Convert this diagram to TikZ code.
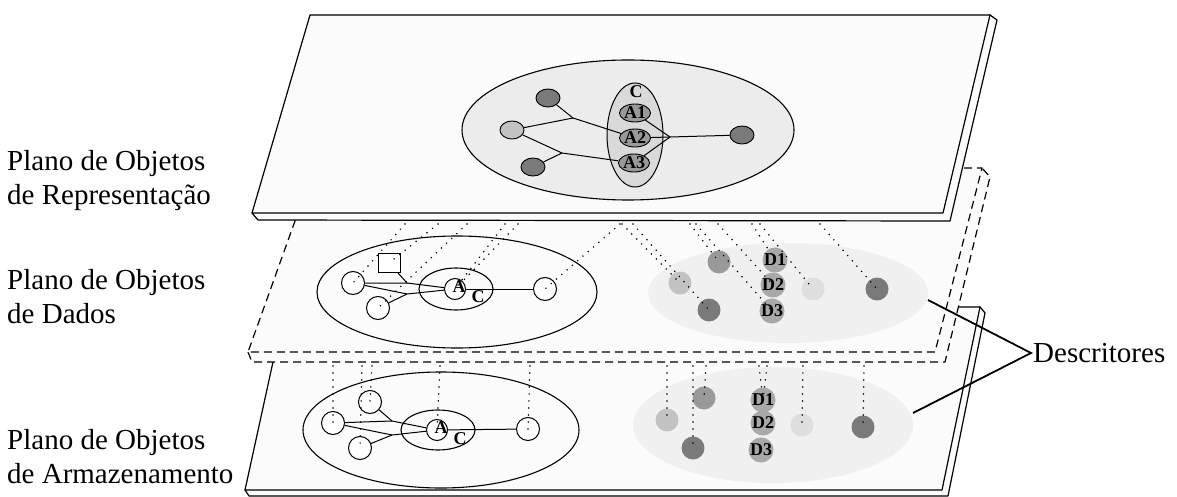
\documentclass[tikz,border=0pt]{standalone}
\usepackage{fontspec}
\setmainfont{Liberation Serif}
\usetikzlibrary{shapes.geometric}
\definecolor{planefill}{gray}{0.985}
\definecolor{ellfill}{gray}{0.925}
\definecolor{cfill}{gray}{0.85}
\definecolor{darkn}{gray}{0.48}
\definecolor{medn}{gray}{0.6}
\definecolor{dn}{gray}{0.66}
\definecolor{lightn}{gray}{0.76}
\definecolor{vlightn}{gray}{0.87}
\definecolor{descfill}{gray}{0.94}
\begin{document}
\begin{tikzpicture}[x=1pt,y=-1pt,
  plane/.style={draw=black, line width=1.2pt, fill=planefill, line join=round},
  dplane/.style={plane, dash pattern=on 8pt off 5pt},
  bigell/.style={ellipse, draw, line width=1.1pt, inner sep=0},
  descell/.style={ellipse, fill=descfill, inner sep=0},
  topn/.style={ellipse, draw, line width=0.9pt, minimum width=24pt, minimum height=18pt, inner sep=0},
  wn/.style={circle, draw, line width=1pt, fill=white, minimum size=23pt, inner sep=0},
  gn/.style={circle, minimum size=23pt, inner sep=0},
  lbl/.style={font=\bfseries\fontsize{18}{18}\selectfont, inner sep=0},
  dots/.style={line width=1.7pt, dash pattern=on 0pt off 7pt, line cap=round},
  edge/.style={line width=1pt},
  side/.style={font=\fontsize{29}{34}\selectfont, anchor=west, align=left, inner sep=0},
  desc/.style={line width=1.8pt}]
\useasboundingbox (0,0) rectangle (1177,497);
\fill[white] (0,0) rectangle (1177,497);

% ---------------- bottom plane ----------------
\filldraw[plane] (245,490) -- (249,496) -- (948,496) -- (985,313) -- (980,307) -- cycle;
\filldraw[plane] (285,307) -- (980,307) -- (942,490) -- (245,490) -- cycle;
\node[bigell, minimum width=276pt, minimum height=116pt] (BE) at (441,430) {};
\node[bigell, minimum width=74pt, minimum height=40pt] (BC) at (438,430) {};
\node[descell, minimum width=280pt, minimum height=116pt] (BD) at (773,425) {};
\node[wn, minimum size=21pt] (ba) at (437,430) {};
\node[wn] (bu) at (370,402) {};
\node[wn] (b1) at (333,423) {};
\node[wn] (b2) at (360,448) {};
\node[wn] (br) at (528,429) {};
\node[lbl] (bla) at (441,428) {A};
\node[lbl] (blc) at (460,439) {C};
\coordinate (bj1) at (392,421);
\coordinate (bj2) at (392,435);
\draw[edge] (b1) -- (bj1) -- (ba);
\draw[edge] (bu) -- (bj1);
\draw[edge] (b1) -- (bj2) -- (ba);
\draw[edge] (b2) -- (bj2);
\draw[edge] (ba) -- (br);
\node[gn, fill=lightn] (bg1) at (667,420) {};
\node[gn, fill=medn] (bg2) at (704,398) {};
\node[gn, fill=darkn] (bg3) at (693,448) {};
\node[gn, fill=vlightn] (bg4) at (802,425) {};
\node[gn, fill=darkn] (bg5) at (863,427) {};
\node[gn, fill=dn, lbl] (bd1) at (763,400) {D1};
\node[gn, fill=dn, lbl] (bd2) at (763,423) {D2};
\node[gn, fill=dn, lbl] (bd3) at (761,450) {D3};
% vertical projection lines
\coordinate (bs1) at (333,366);
\coordinate (bs2) at (362,366);
\coordinate (bs3) at (372,366);
\coordinate (bs4) at (440,366);
\coordinate (bs5) at (530,366);
\coordinate (bs6) at (667,366);
\coordinate (bs7) at (693,366);
\coordinate (bs8) at (706,366);
\coordinate (bs9) at (759,366);
\coordinate (bs10) at (767,366);
\coordinate (bs11) at (803,366);
\coordinate (bs12) at (864,366);
\draw[dots] (bs1) -- (b1.center);
\draw[dots] (bs2) -- (b2.center);
\draw[dots] (bs3) -- (bu.center);
\draw[dots] (bs4) -- (ba.center);
\draw[dots] (bs5) -- (br.center);
\draw[dots] (bs6) -- (bg1.center);
\draw[dots] (bs7) -- (bg3.center);
\draw[dots] (bs8) -- (bg2.center);
\draw[dots] (bs9) -- (bd1.center);
\draw[dots] (bs10) -- (bd1.center);
\draw[dots] (bs11) -- (bg4.center);
\draw[dots] (bs12) -- (bg5.center);

% ---------------- middle plane (dashed) ----------------
\filldraw[dplane] (248,352) -- (252,362) -- (945,362) -- (990,177) -- (982,168) -- cycle;
\filldraw[dplane] (314,168) -- (982,168) -- (935,352) -- (248,352) -- cycle;
\node[bigell, minimum width=280pt, minimum height=112pt] (ME) at (457,292) {};
\node[bigell, minimum width=74pt, minimum height=42pt] (MC) at (456,289) {};
\node[descell, minimum width=280pt, minimum height=100pt] (MD) at (788,293) {};
\node[wn, minimum size=21pt] (ma) at (455,289) {};
\node[wn] (m1) at (353,283) {};
\node[draw, line width=1pt, fill=white, minimum width=22pt, minimum height=19pt, inner sep=0] (ms) at (389,263) {};
\node[wn] (m2) at (378,308) {};
\node[wn] (mr) at (545,289) {};
\node[lbl] (mla) at (459,287) {A};
\node[lbl] (mlc) at (478,297) {C};
\coordinate (mj1) at (407,283);
\coordinate (mj2) at (407,294);
\draw[edge] (m1) -- (mj1) -- (ma);
\draw[edge] (ms) -- (mj1);
\draw[edge] (m1) -- (mj2) -- (ma);
\draw[edge] (m2) -- (mj2);
\draw[edge] (ma) -- (mr);
\node[gn, fill=medn] (mg1) at (719,262) {};
\node[gn, fill=lightn] (mg2) at (680,283) {};
\node[gn, fill=vlightn] (mg3) at (813,289) {};
\node[gn, fill=darkn] (mg4) at (877,289) {};
\node[gn, fill=darkn] (mg5) at (709,310) {};
\node[gn, fill=dn, lbl] (md1) at (775,260) {D1};
\node[gn, fill=dn, lbl] (md2) at (773,285) {D2};
\node[gn, fill=dn, lbl] (md3) at (772,311) {D3};
% slanted projection lines from the top plane
\coordinate (ms1) at (405,224);
\coordinate (ms2) at (438,224);
\coordinate (ms3) at (467,224);
\coordinate (ms4) at (505,224);
\coordinate (ms5) at (518,224);
\coordinate (ms6) at (620,224);
\coordinate (ms7) at (622,224);
\coordinate (ms8) at (633,224);
\coordinate (ms9) at (690,224);
\coordinate (ms10) at (752,224);
\coordinate (ms11) at (718,224);
\coordinate (ms12) at (696,224);
\coordinate (ms13) at (760,224);
\coordinate (ms14) at (820,224);
\draw[dots] (ms1) -- (m1.center);
\draw[dots] (ms2) -- (ms.center);
\draw[dots] (ms3) -- (m2.center);
\draw[dots] (ms4) -- (ma.center);
\draw[dots] (ms5) -- (ma.center);
\draw[dots] (ms6) -- (mr.center);
\draw[dots] (ms7) -- (mg2.center);
\draw[dots] (ms8) -- (mg5.center);
\draw[dots] (ms9) -- (mg1.center);
\draw[dots] (ms10) -- (md1.center);
\draw[dots] (ms11) -- (md2.center);
\draw[dots] (ms12) -- (md3.center);
\draw[dots] (ms13) -- (mg3.center);
\draw[dots] (ms14) -- (mg4.center);

% ---------------- top plane ----------------
\filldraw[plane] (252,213) -- (258,220) -- (950,221) -- (997,20) -- (990,15) -- cycle;
\filldraw[plane] (310,15) -- (990,15) -- (943,213) -- (252,213) -- cycle;
\node[bigell, fill=ellfill, minimum width=332pt, minimum height=140pt] (TE) at (628,130) {};
\node[bigell, line width=1pt, fill=cfill, minimum width=56pt, minimum height=104pt] (TC) at (635,135) {};
\node[lbl] (tcl) at (636,92) {C};
\node[topn, fill=medn, lbl] (a1) at (635,113) {A1};
\node[topn, fill=medn, lbl] (a2) at (635,138) {A2};
\node[topn, fill=medn, lbl] (a3) at (634,163) {A3};
\node[topn, fill=darkn] (tu) at (548,98) {};
\node[topn, fill=lightn] (tl) at (512,130) {};
\node[topn, fill=darkn] (td) at (533,167) {};
\node[topn, fill=darkn] (tr) at (742,135) {};
\coordinate (tj1) at (573,118);
\coordinate (tj2) at (562,153);
\coordinate (tjr) at (670,137);
\draw[edge] (tu) -- (tj1);
\draw[edge] (tl) -- (tj1);
\draw[edge] (tj1) -- (a2);
\draw[edge] (tl) -- (tj2);
\draw[edge] (td) -- (tj2);
\draw[edge] (tj2) -- (a3);
\draw[edge] (a1) -- (tjr);
\draw[edge] (a2) -- (tjr);
\draw[edge] (a3) -- (tjr);
\draw[edge] (tjr) -- (tr);

% ---------------- labels ----------------
\node[side] (L1) at (7,181) {Plano de Objetos\\de Representação};
\node[side] (L2) at (7,297) {Plano de Objetos\\de Dados};
\node[side] (L3) at (7,457) {Plano de Objetos\\de Armazenamento};
\node[side] (DS) at (1033,353) {Descritores};
\coordinate (dm) at (928,300);
\coordinate (db) at (913,413);
\draw[desc] (dm) -- ([xshift=-2pt]DS.west) -- (db);
\end{tikzpicture}
\end{document}
